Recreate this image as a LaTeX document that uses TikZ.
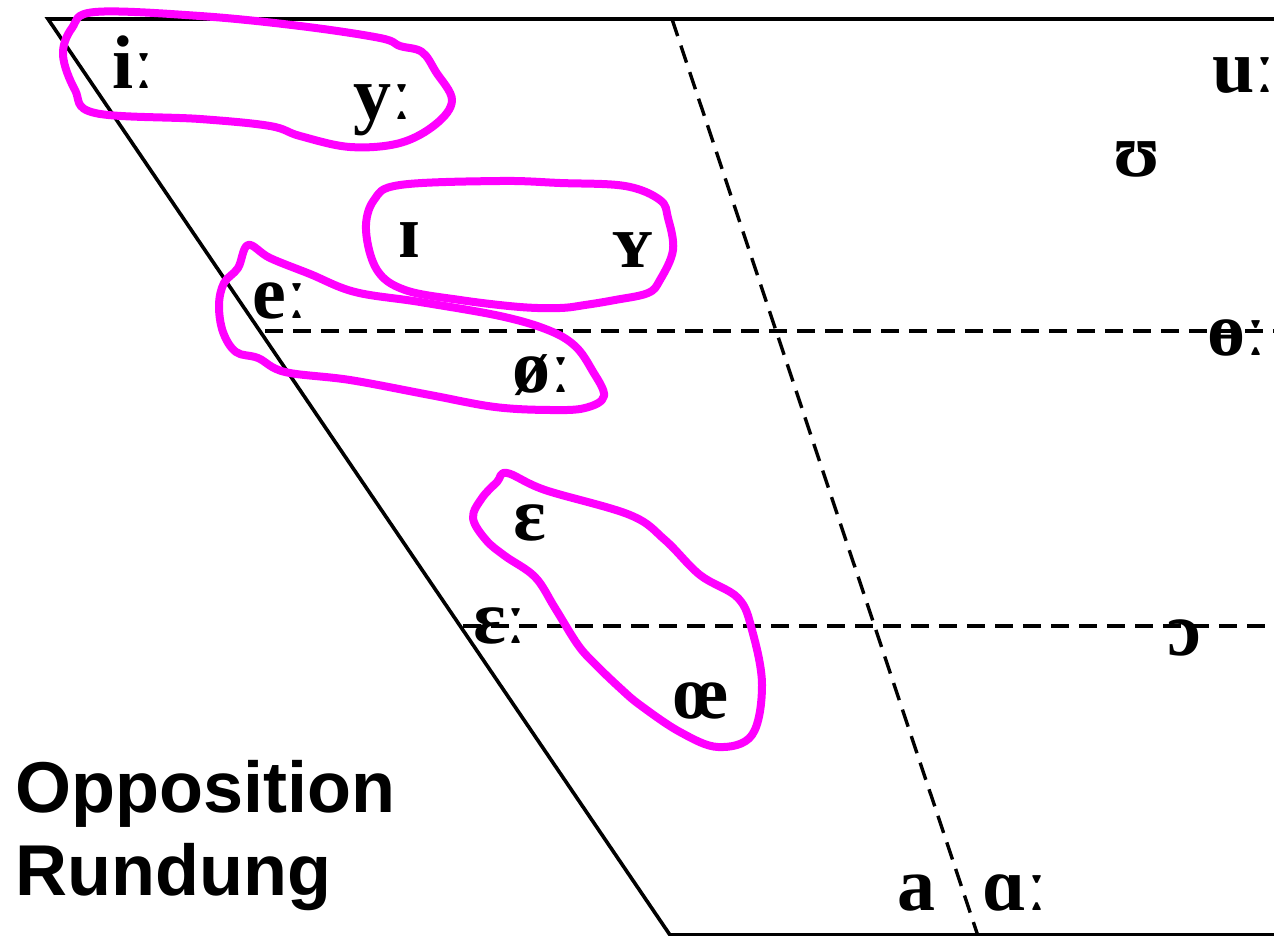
\documentclass[tikz,border=0pt]{standalone}
\usepackage{fontspec}
\setmainfont{Liberation Serif}
\setsansfont{Liberation Sans}
\usepackage{xcolor}
\usepackage{tikz}
\usetikzlibrary{positioning}
\definecolor{hullpink}{RGB}{255,0,255}

\tikzset{
  vowel/.style={inner sep=0pt,anchor=base west,font=\bfseries\fontsize{38}{40}\selectfont},
  caption/.style={inner sep=0pt,anchor=base west,font=\sffamily\bfseries\fontsize{36}{40}\selectfont},
  edge/.style={line width=1.8pt},
  guide/.style={line width=1.7pt,dash pattern=on 9pt off 5pt},
  hull/.style={hullpink,line width=4pt,line join=round,line cap=round}
}

\begin{document}
\begin{tikzpicture}[x=0.5pt,y=-0.5pt]
  \useasboundingbox (0,0) rectangle (1274,936);
  % trapezium
  \coordinate (tl) at (48,19);
  \coordinate (tr) at (1274,19);
  \coordinate (bl) at (670,935);
  \coordinate (br) at (1274,935);
  \draw[edge] (tr) -- (tl) -- (bl) -- (br);
  % dashed guides
  \coordinate (dtop) at (672,19);
  \coordinate (dbot) at (978,936);
  \draw[guide] (dtop) -- (dbot);
  \coordinate (mid1) at (265,331);
  \coordinate (mid1e) at (1274,331);
  \draw[guide] (mid1) -- (mid1e);
  \coordinate (mid2) at (463,626);
  \coordinate (mid2e) at (1274,626);
  \draw[guide] (mid2) -- (mid2e);
  % vowels
  \node[vowel] (ilong) at (112,89) {iː};
  \node[vowel] (ylong) at (353,120) {yː};
  \node[vowel] (ulong) at (1212,93) {uː};
  \node[vowel] (upsilon) at (1113,177) {ʊ};
  \node[vowel] (ismall) at (398,257) {ɪ};
  \node[vowel] (ysmall) at (612,268) {ʏ};
  \node[vowel] (elong) at (252,318) {eː};
  \node[vowel] (barolong) at (1207,355) {ɵː};
  \node[vowel] (oslong) at (512,392) {øː};
  \node[vowel] (epsilon) at (513,540) {ɛ};
  \node[vowel] (epslong) at (473,643) {ɛː};
  \node[vowel] (openo) at (1167,655) {ɔ};
  \node[vowel] (oelig) at (673,718) {œ};
  \node[vowel] (afront) at (897,910) {a};
  \node[vowel] (aback) at (982,910) {ɑː};
  % labels
  \node[caption] (opp) at (15,812) {Opposition};
  \node[caption] (rund) at (15,895) {Rundung};
  % groupings
  \draw[hull] plot[smooth cycle,tension=0.6] coordinates {(95,12) (200,16) (300,26) (380,38) (400,46) (422,52) (436,72) (452,100) (436,124) (400,143) (350,147) (300,136) (270,126) (200,119) (95,113) (75,90) (63,55) (72,28)};
  \draw[hull] plot[smooth cycle,tension=0.6] coordinates {(400,185) (500,181) (560,183) (625,186) (660,200) (668,218) (673,250) (660,280) (648,293) (615,300) (585,305) (560,308) (520,307) (460,300) (405,290) (377,270) (366,230) (374,200)};
  \draw[hull] plot[smooth cycle,tension=0.6] coordinates {(248,245) (270,258) (310,274) (355,292) (420,302) (500,316) (548,330) (575,346) (592,370) (604,396) (585,408) (550,410) (495,407) (430,395) (350,380) (285,372) (258,358) (236,352) (223,332) (219,305) (224,283) (238,268)};
  \draw[hull] plot[smooth cycle,tension=0.6] coordinates {(507,473) (545,490) (630,515) (665,540) (700,575) (738,598) (752,630) (762,685) (752,735) (718,747) (680,732) (640,705) (620,688) (596,665) (578,645) (555,608) (535,577) (505,556) (486,540) (473,518) (482,498) (497,482)};
\end{tikzpicture}
\end{document}
